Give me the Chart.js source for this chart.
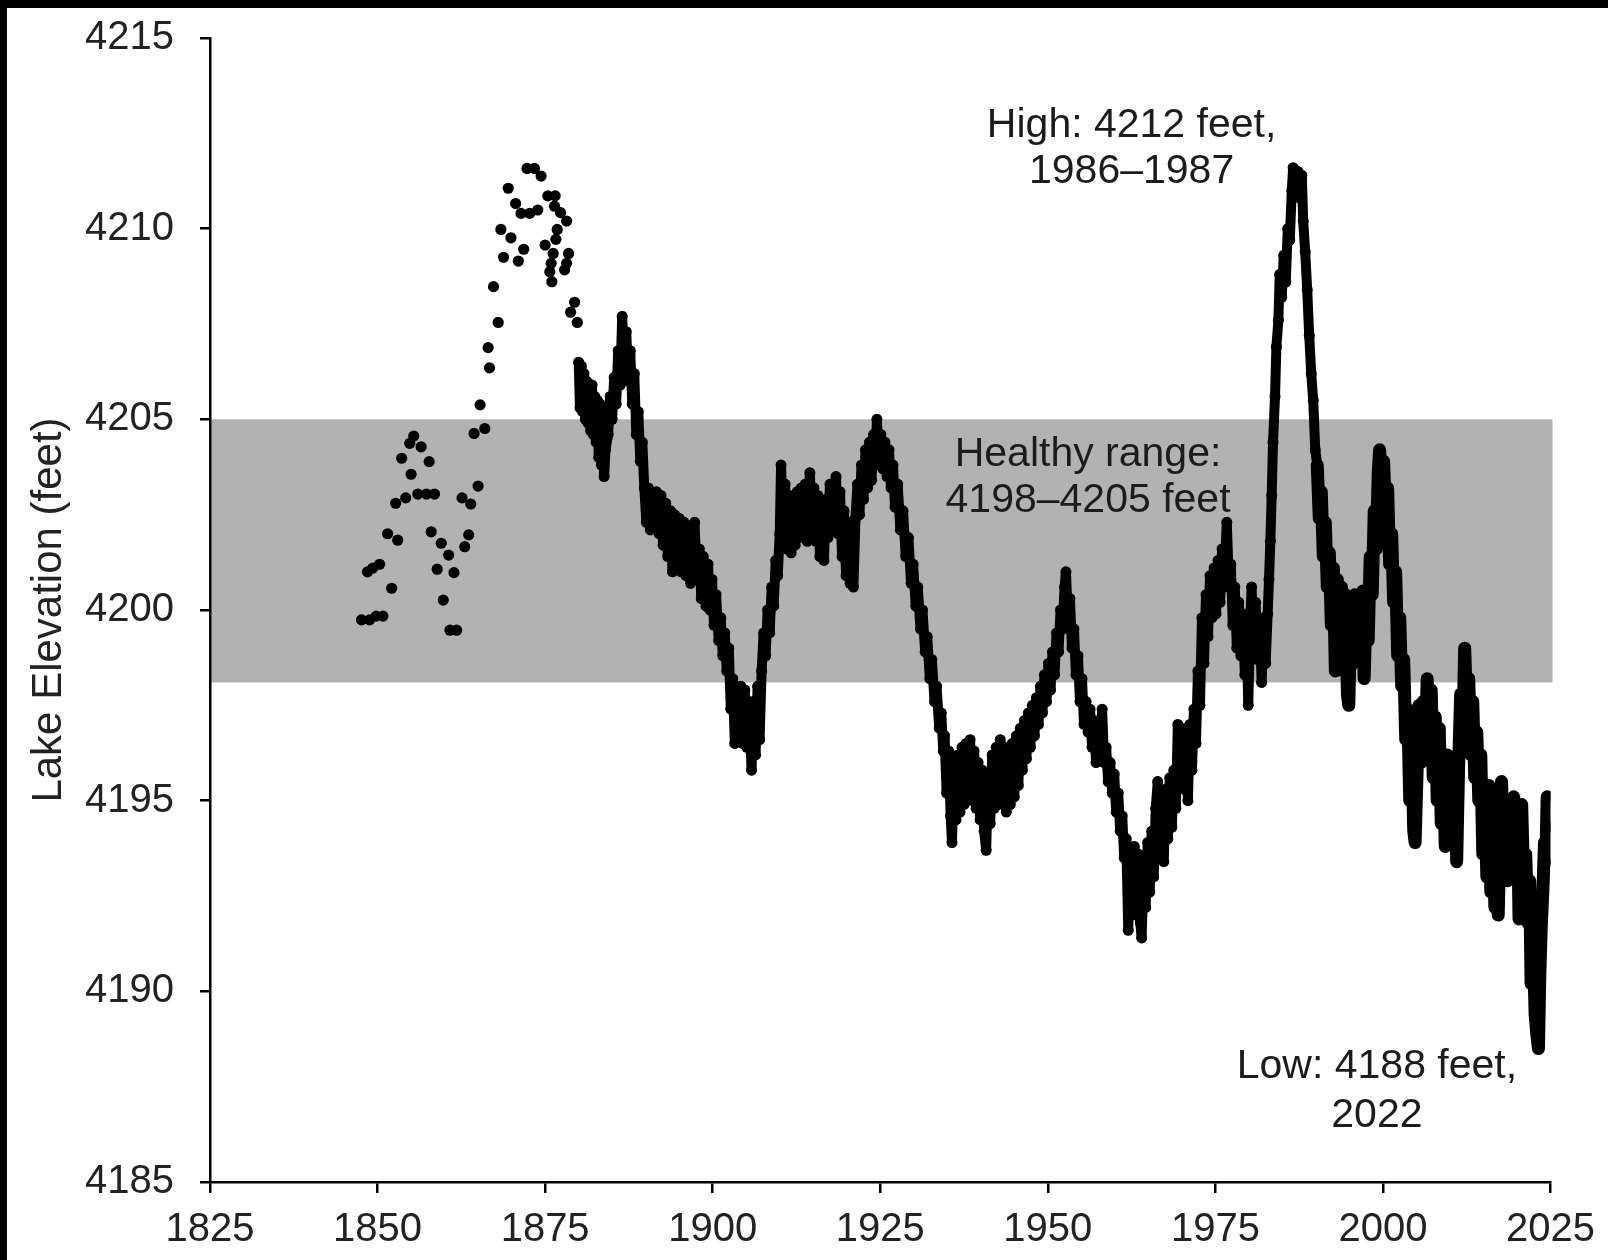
<!DOCTYPE html>
<html>
<head>
<meta charset="utf-8">
<title>Great Salt Lake elevation</title>
<script src="https://cdn.jsdelivr.net/npm/chart.js@4.4.1/dist/chart.umd.min.js"></script>
<style>
  html, body { margin: 0; padding: 0; background: #000; }
  #wrap { position: absolute; left: 7px; top: 8px; width: 1601px; height: 1252px; background: #fff; }
</style>
</head>
<body>
<div id="wrap"><canvas id="lakeChart"></canvas></div>
<script>
// early readings, 1847-1879 (sparse)
var earlyYears = [
  1847.6, 1848.5, 1848.8, 1849.3, 1849.8, 1850.3, 1850.8, 1851.5,
  1852.1, 1852.7, 1853.0, 1853.6, 1854.2, 1854.8, 1855.0, 1855.4,
  1856.0, 1856.5, 1857.3, 1857.7, 1858.0, 1858.5, 1858.9, 1859.5,
  1859.8, 1860.6, 1860.8, 1861.4, 1861.8, 1862.6, 1863.0, 1863.6,
  1863.9, 1864.4, 1865.0, 1865.3, 1866.0, 1866.5, 1866.7, 1867.3,
  1868.0, 1868.4, 1868.8, 1869.5, 1869.9, 1870.6, 1871.0, 1871.4,
  1871.8, 1872.3, 1872.7, 1873.4, 1873.9, 1874.4, 1875.0, 1875.4,
  1875.7, 1875.9, 1876.0, 1876.2, 1876.4, 1876.5, 1876.6, 1876.8,
  1877.3, 1877.9, 1878.2, 1878.2, 1878.5, 1878.8, 1879.4, 1879.8
];
var earlyLevels = [
  4199.74, 4201.0, 4199.74, 4201.1, 4199.84, 4201.2, 4199.84, 4202.0,
  4200.57, 4202.8, 4201.83, 4203.98, 4202.94, 4204.37, 4203.56, 4204.56,
  4203.04, 4204.28, 4203.04, 4203.89, 4202.05, 4203.04, 4201.07, 4201.75,
  4200.26, 4201.44, 4199.47, 4200.98, 4199.47, 4202.94, 4201.66, 4201.97,
  4202.78, 4204.63, 4203.25, 4205.38, 4204.76, 4206.88, 4206.35, 4208.48,
  4207.54, 4209.98, 4209.25, 4211.06, 4209.76, 4210.66, 4209.15, 4210.40,
  4209.46, 4211.58, 4210.40, 4211.58, 4210.49, 4211.38, 4209.57, 4210.86,
  4208.87, 4209.09, 4208.61, 4209.35, 4210.59, 4210.86, 4209.72, 4209.98,
  4210.42, 4208.92, 4210.2, 4209.09, 4209.35, 4207.81, 4208.07, 4207.54
];

// later readings, 1880-2024 (dense), one line per decade
var years = [
  1880.0, 1880.2, 1880.4, 1880.6, 1880.8, 1881.0, 1881.2, 1881.4, 1881.6, 1881.8, 1882.0, 1882.2, 1882.4, 1882.6, 1882.8, 1883.0, 1883.2, 1883.4, 1883.6, 1883.8, 1884.0, 1884.4, 1884.7, 1885.0, 1885.3, 1885.6, 1885.9, 1886.2, 1886.5, 1886.8, 1887.1, 1887.4, 1887.7, 1888.0, 1888.3, 1888.6, 1888.9, 1889.2, 1889.5, 1889.8,
  1890.1, 1890.4, 1890.7, 1891.0, 1891.3, 1891.6, 1892.0, 1892.3, 1892.6, 1893.0, 1893.3, 1893.7, 1894.0, 1894.3, 1894.6, 1895.0, 1895.3, 1895.7, 1896.0, 1896.4, 1896.7, 1897.0, 1897.3, 1897.6, 1898.0, 1898.3, 1898.6, 1899.0, 1899.3, 1899.6, 1899.9,
  1900.2, 1900.5, 1900.9, 1901.2, 1901.5, 1901.8, 1902.1, 1902.4, 1902.7, 1903.0, 1903.3, 1903.6, 1903.9, 1904.2, 1904.5, 1904.8, 1905.1, 1905.4, 1905.8, 1906.1, 1906.4, 1906.7, 1907.0, 1907.3, 1907.6, 1907.9, 1908.2, 1908.5, 1908.8, 1909.1, 1909.4, 1909.7,
  1910.0, 1910.2, 1910.5, 1910.8, 1911.1, 1911.4, 1911.7, 1912.0, 1912.3, 1912.6, 1912.9, 1913.2, 1913.5, 1913.8, 1914.1, 1914.5, 1914.8, 1915.1, 1915.4, 1915.7, 1916.0, 1916.3, 1916.6, 1916.9, 1917.2, 1917.5, 1917.8, 1918.1, 1918.4, 1918.7, 1919.0, 1919.3, 1919.6, 1919.9,
  1920.2, 1920.5, 1920.8, 1921.0, 1921.3, 1921.6, 1921.9, 1922.2, 1922.5, 1922.8, 1923.1, 1923.4, 1923.7, 1924.0, 1924.3, 1924.5, 1924.8, 1925.1, 1925.4, 1925.7, 1926.0, 1926.3, 1926.6, 1926.9, 1927.2, 1927.6, 1928.0, 1928.4, 1928.8, 1929.2, 1929.6, 1929.9,
  1930.3, 1930.6, 1931.0, 1931.3, 1931.7, 1932.0, 1932.4, 1932.7, 1933.1, 1933.4, 1933.8, 1934.1, 1934.4, 1934.6, 1934.9, 1935.2, 1935.5, 1935.7, 1936.0, 1936.3, 1936.6, 1936.9, 1937.2, 1937.5, 1937.8, 1938.1, 1938.4, 1938.7, 1939.0, 1939.3, 1939.6, 1939.9,
  1940.2, 1940.5, 1940.8, 1941.1, 1941.4, 1941.7, 1942.0, 1942.3, 1942.6, 1942.9, 1943.2, 1943.5, 1943.8, 1944.1, 1944.4, 1944.7, 1945.0, 1945.3, 1945.6, 1945.9, 1946.2, 1946.5, 1946.8, 1947.1, 1947.4, 1947.7, 1948.0, 1948.3, 1948.6, 1948.9, 1949.2, 1949.5, 1949.8,
  1950.1, 1950.4, 1950.7, 1951.0, 1951.3, 1951.6, 1951.9, 1952.2, 1952.5, 1952.7, 1953.0, 1953.3, 1953.6, 1953.9, 1954.2, 1954.5, 1954.8, 1955.1, 1955.4, 1955.7, 1956.0, 1956.3, 1956.6, 1956.9, 1957.2, 1957.5, 1957.8, 1958.1, 1958.4, 1958.7, 1959.0, 1959.3, 1959.6, 1959.9,
  1960.2, 1960.5, 1960.8, 1961.1, 1961.4, 1961.7, 1962.0, 1962.3, 1962.6, 1962.9, 1963.2, 1963.5, 1963.8, 1964.0, 1964.3, 1964.6, 1964.9, 1965.2, 1965.5, 1965.8, 1966.1, 1966.4, 1966.7, 1967.0, 1967.3, 1967.6, 1967.9, 1968.2, 1968.5, 1968.8, 1969.1, 1969.4, 1969.7,
  1970.0, 1970.3, 1970.6, 1970.9, 1971.2, 1971.5, 1971.8, 1972.1, 1972.4, 1972.7, 1973.0, 1973.3, 1973.6, 1973.9, 1974.2, 1974.5, 1974.8, 1975.1, 1975.4, 1975.7, 1976.0, 1976.3, 1976.7, 1977.0, 1977.3, 1977.6, 1977.9, 1978.2, 1978.5, 1978.8, 1979.1, 1979.4, 1979.7, 1979.9,
  1980.2, 1980.4, 1980.7, 1981.0, 1981.3, 1981.6, 1981.9, 1982.2, 1982.5, 1982.8, 1983.0, 1983.2, 1983.4, 1983.6, 1983.9, 1984.1, 1984.4, 1984.6, 1984.9, 1985.2, 1985.5, 1985.8, 1986.1, 1986.4, 1986.6, 1987.0, 1987.3, 1987.6, 1987.9, 1988.1, 1988.4, 1988.7, 1989.0, 1989.3, 1989.6, 1989.9,
  1990.2, 1990.5, 1990.8, 1991.1, 1991.4, 1991.7, 1992.0, 1992.3, 1992.6, 1992.9, 1993.2, 1993.5, 1993.8, 1994.1, 1994.4, 1994.7, 1994.9, 1995.2, 1995.5, 1995.8, 1996.1, 1996.4, 1996.7, 1997.0, 1997.2, 1997.5, 1997.8, 1998.1, 1998.4, 1998.7, 1999.0, 1999.3, 1999.5, 1999.8,
  2000.1, 2000.4, 2000.7, 2001.0, 2001.3, 2001.6, 2001.9, 2002.2, 2002.5, 2002.8, 2003.1, 2003.4, 2003.7, 2004.0, 2004.3, 2004.6, 2004.8, 2005.1, 2005.4, 2005.7, 2006.0, 2006.3, 2006.6, 2006.9, 2007.2, 2007.5, 2007.8, 2008.1, 2008.4, 2008.7, 2009.0, 2009.3, 2009.6, 2009.9,
  2010.2, 2010.5, 2010.8, 2011.0, 2011.3, 2011.6, 2011.9, 2012.2, 2012.5, 2012.8, 2013.1, 2013.4, 2013.7, 2014.0, 2014.3, 2014.6, 2014.9, 2015.2, 2015.5, 2015.8, 2016.1, 2016.4, 2016.7, 2017.0, 2017.2, 2017.5, 2017.7, 2018.0, 2018.3, 2018.6, 2018.9, 2019.2, 2019.5, 2019.8,
  2020.1, 2020.3, 2020.5, 2020.7, 2021.0, 2021.3, 2021.6, 2021.9, 2022.1, 2022.4, 2022.7, 2023.0, 2023.2, 2023.4, 2023.6, 2023.9, 2024.1, 2024.3, 2024.5, 2024.7
];
var levels = [
  4206.5, 4205.3, 4206.4, 4205.2, 4206.2, 4205.0, 4206.0, 4204.9, 4205.8, 4204.7, 4205.9, 4204.6, 4205.6, 4204.4, 4205.5, 4204.0, 4205.4, 4203.8, 4205.0, 4203.5, 4204.2, 4204.6, 4205.6, 4205.0, 4206.1, 4205.4, 4206.8, 4205.9, 4207.7, 4206.3, 4207.3, 4206.0, 4206.8, 4205.4, 4206.2, 4204.6, 4205.2, 4203.9, 4204.4, 4203.2,
  4202.3, 4203.2, 4202.1, 4203.0, 4202.4, 4203.1, 4202.0, 4203.0, 4201.7, 4202.8, 4201.4, 4202.6, 4201.0, 4202.5, 4201.3, 4202.4, 4201.0, 4202.3, 4200.9, 4202.2, 4200.7, 4201.9, 4202.3, 4200.8, 4201.6, 4200.3, 4201.4, 4200.1, 4201.2, 4200.0, 4200.8,
  4199.6, 4200.4, 4199.2, 4199.8, 4198.8, 4199.4, 4198.4, 4199.0, 4197.4, 4198.2, 4196.5, 4197.8, 4196.6, 4198.0, 4196.5, 4197.9, 4196.4, 4197.6, 4195.8, 4197.6, 4196.2, 4198.0, 4196.6, 4198.4, 4199.4, 4198.8, 4200.0, 4199.4, 4200.6, 4200.1, 4201.3, 4200.9,
  4202.0, 4203.8, 4202.0, 4203.3, 4201.6, 4203.0, 4201.5, 4202.9, 4201.7, 4203.1, 4201.9, 4203.2, 4202.0, 4203.3, 4201.8, 4203.6, 4202.0, 4203.2, 4201.8, 4203.0, 4201.4, 4202.8, 4201.3, 4202.9, 4201.9, 4203.3, 4202.1, 4203.2, 4203.5, 4202.0, 4203.1, 4201.4, 4202.6, 4200.9,
  4202.3, 4200.7, 4201.9, 4200.6, 4202.4, 4203.3, 4202.5, 4203.8, 4202.9, 4204.2, 4203.2, 4204.4, 4203.4, 4204.6, 4203.8, 4205.0, 4203.9, 4204.6, 4203.7, 4204.4, 4203.5, 4204.2, 4203.2, 4203.8, 4202.7, 4203.3, 4202.1, 4202.6, 4201.4, 4201.9, 4200.7, 4201.2,
  4200.1, 4200.6, 4199.5, 4200.0, 4198.9, 4199.3, 4198.2, 4198.7, 4197.6, 4198.0, 4196.9, 4197.3, 4196.3, 4196.7, 4195.2, 4196.3, 4194.6, 4193.9, 4195.8, 4194.5, 4196.2, 4194.7, 4196.4, 4194.9, 4196.5, 4195.0, 4196.6, 4195.2, 4196.3, 4194.8, 4196.0, 4194.5,
  4195.8, 4194.2, 4193.7, 4195.6, 4194.4, 4196.2, 4194.8, 4196.4, 4194.9, 4196.6, 4195.0, 4196.4, 4194.7, 4196.3, 4194.9, 4196.5, 4195.1, 4196.7, 4195.4, 4196.9, 4195.8, 4197.1, 4196.1, 4197.3, 4196.4, 4197.5, 4196.7, 4197.7, 4197.0, 4198.0, 4197.3, 4198.3, 4197.6,
  4198.6, 4197.9, 4198.9, 4198.3, 4199.4, 4198.9, 4200.0, 4199.5, 4200.6, 4201.0, 4199.8, 4200.3, 4199.0, 4199.5, 4198.3, 4198.8, 4197.6, 4198.2, 4197.0, 4197.6, 4196.8, 4197.4, 4196.4, 4197.1, 4196.0, 4196.8, 4196.2, 4197.4, 4196.0, 4196.4, 4195.5, 4196.0, 4195.2, 4195.7,
  4194.7, 4195.2, 4194.2, 4194.6, 4193.5, 4194.0, 4191.6, 4193.6, 4192.2, 4193.8, 4192.0, 4193.6, 4191.8, 4191.4, 4193.3, 4192.2, 4193.9, 4192.6, 4194.2, 4193.0, 4194.8, 4195.5, 4193.8, 4195.0, 4193.4, 4195.3, 4194.0, 4195.6, 4194.3, 4195.8, 4194.8, 4197.0, 4195.5,
  4196.8, 4195.3, 4196.9, 4195.0, 4197.0, 4195.8, 4197.4, 4196.5, 4198.4, 4197.5, 4199.8, 4198.6, 4200.4, 4199.3, 4200.9, 4199.8, 4201.1, 4199.9, 4201.3, 4200.2, 4201.6, 4200.6, 4202.3, 4200.8, 4201.2, 4199.6, 4200.6, 4199.0, 4200.2, 4198.8, 4199.9, 4198.3, 4199.2, 4197.5,
  4199.6, 4200.6, 4199.0, 4200.2, 4198.7, 4199.8, 4198.1, 4199.6, 4198.6, 4199.9, 4200.8, 4201.8, 4203.0, 4204.4, 4205.6, 4206.9, 4207.6, 4208.8, 4208.2, 4209.3, 4208.6, 4210.0, 4209.7, 4211.0, 4211.6, 4211.0, 4211.5, 4210.8, 4211.4, 4210.2, 4209.4, 4208.4, 4207.2, 4206.2, 4205.5, 4204.2,
  4203.8, 4202.4, 4203.1, 4201.4, 4202.3, 4200.6, 4201.5, 4199.6, 4201.1, 4198.4, 4200.8, 4198.6, 4200.6, 4198.4, 4200.4, 4197.8, 4197.5, 4199.8, 4198.6, 4200.4, 4198.8, 4200.4, 4198.9, 4200.5, 4198.2, 4200.2, 4199.2, 4201.4, 4200.4, 4202.6, 4201.6, 4203.6, 4204.2, 4202.9,
  4203.9, 4202.4, 4203.2, 4201.2, 4202.0, 4200.2, 4201.0, 4198.8, 4199.8, 4198.0, 4198.7, 4196.6, 4197.4, 4195.0, 4196.3, 4194.2, 4193.9, 4195.8, 4197.5, 4196.0, 4197.6, 4196.2, 4198.2, 4196.4, 4197.9, 4195.6, 4197.2, 4195.0, 4196.9, 4194.4, 4196.0, 4193.8, 4196.2, 4194.6,
  4196.0, 4194.2, 4195.8, 4193.4, 4196.0, 4197.8, 4196.6, 4199.0, 4197.2, 4198.2, 4196.2, 4197.6, 4195.6, 4196.8, 4195.0, 4196.2, 4193.6, 4195.2, 4193.0, 4195.4, 4192.6, 4194.6, 4192.2, 4193.8, 4192.0, 4194.4, 4195.5, 4193.4, 4194.8, 4192.9, 4195.0, 4193.2, 4195.1, 4193.6,
  4194.6, 4191.9, 4193.4, 4194.9, 4192.8, 4193.6, 4191.8, 4192.9, 4190.2, 4191.6, 4189.4, 4188.8, 4188.5, 4190.4, 4191.6, 4192.8, 4193.9, 4193.4, 4195.1, 4194.3
];

var yearTicks = [1825, 1850, 1875, 1900, 1925, 1950, 1975, 2000, 2025];
var levelTicks = [4185, 4190, 4195, 4200, 4205, 4210, 4215];
var healthyLow = 4198.1;
var healthyHigh = 4205;

var textFont = '"Liberation Sans", Arial, Helvetica, sans-serif';
Chart.defaults.font.family = textFont;

// text notes placed in data coordinates
var notes = [
  { x: 1962.5, y: [4212.4, 4211.2], lines: ['High: 4212 feet,', '1986\u20131987'] },
  { x: 1956.0, y: [4203.78, 4202.57], lines: ['Healthy range:', '4198\u20134205 feet'] },
  { x: 1999.1, y: [4187.73, 4186.44], lines: ['Low: 4188 feet,', '2022'] }
];

var bandPlugin = {
  id: 'healthyBand',
  beforeDraw: function(chart) {
    var ctx = chart.ctx, xs = chart.scales.x, ys = chart.scales.y;
    var top = ys.getPixelForValue(healthyHigh);
    var bottom = ys.getPixelForValue(healthyLow);
    ctx.save();
    ctx.fillStyle = '#b2b2b2';
    ctx.fillRect(xs.left, top, xs.right - xs.left + 2, bottom - top);
    ctx.restore();
  },
  afterDatasetsDraw: function(chart) {
    var ctx = chart.ctx, xs = chart.scales.x, ys = chart.scales.y;
    ctx.save();
    ctx.fillStyle = '#1c1c1c';
    ctx.font = '41px ' + textFont;
    ctx.textAlign = 'center';
    ctx.textBaseline = 'alphabetic';
    notes.forEach(function(n) {
      n.lines.forEach(function(line, i) {
        ctx.fillText(line, xs.getPixelForValue(n.x), ys.getPixelForValue(n.y[i]));
      });
    });
    ctx.restore();
  }
};

function toPoints(xv, yv) {
  return xv.map(function(x, i) { return { x: x, y: yv[i] }; });
}

var axisFont = { size: 40 };

new Chart(document.getElementById('lakeChart').getContext('2d'), {
  type: 'scatter',
  data: {
    datasets: [{
      label: 'Early readings',
      data: toPoints(earlyYears, earlyLevels),
      pointRadius: 5.6,
      pointBackgroundColor: '#000',
      pointBorderWidth: 0,
      showLine: false
    }, {
      label: 'Lake elevation',
      data: toPoints(years, levels),
      pointRadius: 5.5,
      pointBackgroundColor: '#000',
      pointBorderWidth: 0,
      showLine: true,
      borderColor: '#000',
      borderWidth: 10,
      borderJoinStyle: 'round',
      borderCapStyle: 'round',
      tension: 0,
      // daily record after 1990 draws as heavier strokes
      segment: {
        borderWidth: function(c) { return c.p0.parsed.x >= 1990 ? 13 : 10; }
      }
    }]
  },
  options: {
    responsive: true,
    maintainAspectRatio: false,
    animation: false,
    events: [],
    layout: { padding: { top: 30, right: 56, left: 0, bottom: 0 } },
    plugins: {
      legend: { display: false },
      tooltip: { enabled: false }
    },
    scales: {
      x: {
        type: 'linear',
        min: 1825,
        max: 2025,
        afterBuildTicks: function(scale) {
          scale.ticks = yearTicks.map(function(v) { return { value: v }; });
        },
        afterFit: function(scale) { scale.height = 78; },
        grid: { display: true, drawOnChartArea: false, drawTicks: true, tickLength: 11, color: '#000', lineWidth: 2.5 },
        border: { display: true, color: '#000', width: 2.5 },
        ticks: {
          color: '#222',
          font: axisFont,
          padding: 13,
          maxRotation: 0,
          autoSkip: false,
          callback: function(v) { return String(v); }
        }
      },
      y: {
        type: 'linear',
        min: 4185,
        max: 4215,
        afterBuildTicks: function(scale) {
          scale.ticks = levelTicks.map(function(v) { return { value: v }; });
        },
        afterFit: function(scale) {
          scale.width = 203;
          scale.paddingTop = 0;
          scale.paddingBottom = 0;
        },
        grid: { display: true, drawOnChartArea: false, drawTicks: true, tickLength: 10, color: '#000', lineWidth: 2.5 },
        border: { display: true, color: '#000', width: 2.5 },
        ticks: {
          color: '#222',
          font: axisFont,
          padding: 26,
          autoSkip: false,
          callback: function(v) { return String(v); }
        },
        title: {
          display: true,
          text: 'Lake Elevation (feet)',
          color: '#222',
          font: { size: 42 },
          padding: { top: 17, bottom: 0 }
        }
      }
    }
  },
  plugins: [bandPlugin]
});
</script>
</body>
</html>
